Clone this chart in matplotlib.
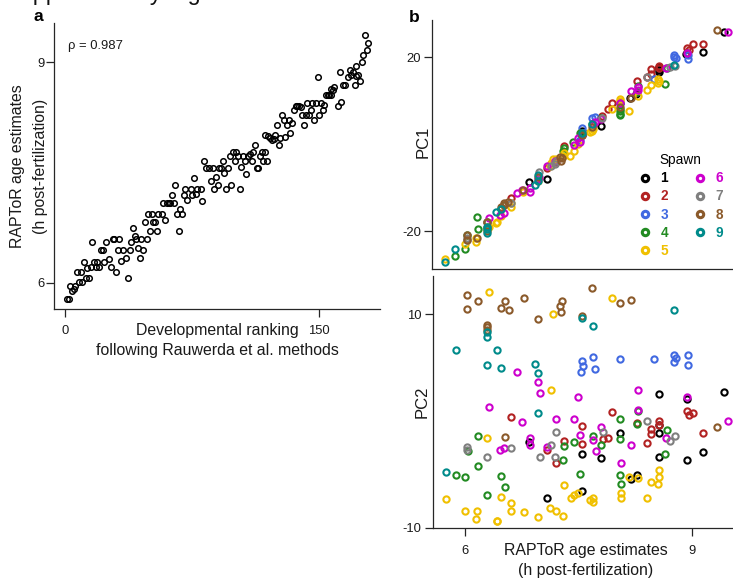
import matplotlib
matplotlib.use("Agg")
import matplotlib.pyplot as plt
from matplotlib.lines import Line2D

plt.rcParams["font.family"] = ["Liberation Sans", "DejaVu Sans"]
plt.rcParams["axes.unicode_minus"] = False

# ---------------- panel a: developmental ranking vs RAPToR age ----------------
rank = [1, 2, 3, 4, 5, 6, 7, 8, 9, 10, 11, 12, 13, 14, 15, 16, 17, 18, 19, 20,
        21, 22, 23, 24, 26, 27, 28, 29, 30, 31, 32, 33, 34, 36, 37, 38, 39, 40,
        41, 42, 43, 44, 45, 46, 47, 48, 49, 50, 51, 52, 53, 54, 55, 57, 58, 59,
        60, 61, 62, 63, 64, 65, 66, 67, 68, 69, 70, 71, 72, 74, 75, 76, 77, 78,
        80, 81, 82, 83, 85, 86, 87, 88, 89, 90, 91, 92, 93, 94, 95, 96, 97, 98,
        99, 100, 101, 102, 103, 104, 105, 106, 107, 108, 109, 110, 111, 112,
        113, 114, 115, 116, 117, 118, 118, 119, 120, 121, 122, 123, 124, 125,
        126, 127, 128, 129, 130, 131, 132, 133, 134, 135, 136, 137, 138, 139,
        140, 141, 142, 143, 144, 145, 146, 147, 148, 149, 150, 151, 152, 153,
        154, 155, 156, 157, 157, 158, 159, 161, 162, 163, 164, 165, 167, 168,
        169, 170, 171, 172, 172, 173, 174, 175, 176, 177, 178, 179]
raptor_age = [5.78, 5.78, 5.96, 5.89, 5.92, 5.96, 6.14, 6.01, 6.14, 6.01, 6.28,
              6.07, 6.20, 6.07, 6.22, 6.56, 6.28, 6.22, 6.28, 6.21, 6.44, 6.44,
              6.28, 6.56, 6.32, 6.21, 6.59, 6.59, 6.14, 6.44, 6.59, 6.29, 6.45,
              6.33, 6.07, 6.44, 6.56, 6.75, 6.63, 6.59, 6.47, 6.33, 6.59, 6.44,
              6.83, 6.59, 6.93, 6.71, 6.93, 6.83, 6.83, 6.71, 6.93, 6.93, 7.08,
              6.85, 7.08, 7.08, 7.09, 7.20, 7.09, 7.33, 6.93, 6.70, 7.00, 6.93,
              7.19, 7.28, 7.13, 7.28, 7.19, 7.43, 7.21, 7.28, 7.28, 7.11, 7.65,
              7.56, 7.56, 7.38, 7.56, 7.28, 7.44, 7.33, 7.56, 7.56, 7.65, 7.50,
              7.28, 7.56, 7.73, 7.33, 7.78, 7.65, 7.78, 7.72, 7.28, 7.58, 7.72,
              7.65, 7.48, 7.73, 7.75, 7.65, 7.78, 7.88, 7.56, 7.56, 7.73, 7.78,
              7.65, 7.78, 8.01, 7.65, 8.00, 7.97, 7.94, 7.95, 8.01, 8.15, 7.87,
              7.97, 8.28, 8.22, 7.99, 8.15, 8.22, 8.04, 8.18, 8.35, 8.40, 8.41,
              8.41, 8.39, 8.28, 8.15, 8.28, 8.45, 8.28, 8.35, 8.45, 8.22, 8.45,
              8.80, 8.28, 8.45, 8.35, 8.42, 8.56, 8.56, 8.56, 8.56, 8.63, 8.62,
              8.67, 8.40, 8.87, 8.46, 8.69, 8.69, 8.80, 8.89, 8.83, 8.87, 8.69,
              8.81, 8.95, 8.83, 8.74, 9.01, 9.10, 9.37, 9.17, 9.26]
rho_text = "\u03c1 = 0.987"

# ---------------- panel b: PCA by spawn ----------------
spawns = [1, 2, 3, 4, 5, 6, 7, 8, 9]
spawn_colors = ["#000000", "#B22222", "#4169E1", "#228B22", "#F0C000",
                "#CD00CD", "#7F7F7F", "#8B5A2B", "#008B8B"]

age_by_spawn = {
    1: [6.85, 7.55, 7.55, 7.09, 8.05, 7.80, 8.19, 8.27, 8.57, 8.57, 8.57, 8.57,
        8.94, 8.93, 9.15, 9.43],
    2: [6.61, 7.09, 7.21, 7.31, 7.55, 7.55, 7.82, 7.89, 7.95, 8.28, 8.46, 8.46,
        8.41, 8.57, 8.57, 8.94, 8.96, 9.01, 9.15],
    3: [7.55, 7.56, 7.53, 7.69, 7.72, 8.05, 8.50, 8.77, 8.79, 8.77, 8.95, 8.95],
    4: [6.17, 6.04, 6.18, 5.88, 6.01, 6.48, 6.53, 6.30, 7.30, 7.31, 7.44, 7.52,
        7.69, 8.05, 8.05, 8.29, 8.28, 8.67, 8.65, 8.05, 8.06, 7.80],
    5: [6.32, 7.17, 7.14, 6.30, 5.75, 6.01, 6.16, 6.15, 6.42, 6.43, 6.48, 6.61,
        6.61, 6.78, 6.97, 7.13, 7.21, 7.30, 7.31, 7.40, 7.45, 7.50, 7.66, 7.95,
        8.06, 8.06, 7.70, 7.69, 8.41, 8.29, 8.46, 8.57, 8.56, 8.55, 8.17],
    6: [6.69, 6.32, 6.76, 6.97, 6.99, 6.86, 6.86, 6.47, 6.52, 7.20, 7.45, 7.50,
        7.52, 7.09, 7.80, 7.70, 7.73, 8.20, 8.06, 8.29, 8.29, 8.94, 8.66, 9.48],
    7: [6.03, 6.03, 6.30, 6.61, 7.21, 7.14, 6.99, 7.19, 7.82, 8.41, 8.78, 8.71],
    8: [6.03, 6.03, 6.17, 6.30, 6.30, 6.30, 6.53, 6.48, 6.58, 6.78, 6.97, 7.26,
        7.29, 7.27, 7.55, 7.68, 8.05, 8.20, 6.53, 9.33],
    9: [5.75, 5.88, 6.42, 6.30, 6.48, 6.93, 6.97, 6.97, 6.30, 6.30, 7.55, 7.69,
        8.77],
}
pc1_by_spawn = {
    1: [-8.7, 3.0, 2.0, -8.0, 9.5, 4.1, 10.5, 11.5, 17.8, 17.0, 17.5, 16.5,
        21.0, 20.8, 21.2, 25.7],
    2: [-12.3, -5.5, -4.1, -0.5, 2.5, 2.0, 6.5, 8.0, 9.5, 14.5, 16.0, 17.2,
        15.5, 17.5, 18.0, 22.0, 21.5, 23.1, 23.0],
    3: [3.6, 2.5, 1.0, 6.1, 6.3, 9.5, 14.9, 20.5, 19.8, 20.0, 20.5, 19.5],
    4: [-16.7, -21.0, -19.5, -25.7, -24.2, -15.0, -14.0, -18.0, -1.5, -1.0,
        0.5, 2.5, 4.5, 8.0, 6.7, 13.3, 12.0, 17.5, 13.8, 7.0, 7.5, 6.0],
    5: [-19.0, -3.5, -4.4, -19.5, -26.5, -23.0, -21.6, -22.5, -18.2, -17.8,
        -16.5, -13.5, -14.5, -11.0, -8.5, -5.0, -3.5, -2.8, -2.0, -2.8, -1.5,
        0.0, 2.8, 8.0, 10.3, 9.8, 3.5, 3.0, 12.4, 11.0, 13.5, 14.5, 15.0, 14.0,
        7.7],
    6: [-11.3, -17.0, -10.5, -8.0, -7.5, -11.0, -10.2, -16.3, -15.8, -4.0,
        -0.2, 1.5, 0.5, -5.0, 5.8, 4.5, 5.0, 12.3, 9.5, 12.5, 13.0, 21.0, 17.5,
        25.7],
    7: [-21.5, -22.0, -18.0, -13.5, -4.0, -5.0, -6.4, -4.5, 6.0, 15.5, 18.0,
        17.8],
    8: [-22.0, -21.0, -21.6, -18.0, -19.0, -20.0, -13.6, -14.5, -13.3, -10.5,
        -7.5, -2.9, -3.3, -3.8, 2.0, 4.0, 8.5, 10.5, -14.0, 26.2],
    9: [-27.0, -24.0, -15.6, -19.5, -15.0, -9.4, -8.5, -7.0, -20.5, -19.0, 2.5,
        4.5, 18.2],
}
pc2_by_spawn = {
    1: [-2.00, -3.13, -6.59, -7.22, -1.16, -3.50, -5.44, -5.06, 2.50, -0.38,
        -1.16, -3.34, 2.06, -3.66, -2.88, 2.75],
    2: [0.41, -2.72, -3.97, -1.84, -0.44, -2.19, -1.72, -1.63, 0.88, -0.22,
        -0.75, -1.25, -2.03, 0.03, -0.34, 0.94, 0.56, 0.72, -1.09],
    3: [5.60, 5.20, 4.55, 5.97, 4.84, 5.78, 5.81, 6.19, 5.88, 5.50, 6.19, 5.25],
    4: [-1.41, -2.81, -4.19, -5.06, -5.22, -5.13, -6.22, -6.94, -3.66, -2.31,
        -1.94, -5.00, -1.38, 0.19, -1.69, 0.94, -0.31, -0.84, -3.09, -5.06,
        -5.94, -2.25],
    5: [12.06, 10.00, 2.94, -1.63, -7.34, -8.41, -8.41, -9.19, -9.34, -9.40,
        -7.09, -7.72, -8.44, -8.56, -9.03, -8.16, -8.47, -8.88, -6.00, -7.25,
        -6.94, -6.78, -7.41, 11.56, -6.78, -7.19, -7.19, -7.63, -7.19, -5.34,
        -5.72, -4.59, -5.22, -5.94, -5.25],
    6: [4.63, 1.28, -0.13, 3.69, 2.59, -1.56, -2.25, -2.72, -2.50, 0.16, 0.16,
        2.28, -1.31, -2.41, -0.53, -1.78, -2.81, -2.25, -3.97, 2.91, 1.03, 2.28,
        -1.63, 0.03],
    7: [-2.41, -2.72, -3.34, -2.50, -1.06, -2.25, -3.34, -3.34, -1.06, -0.03,
        -1.44, -1.88],
    8: [11.81, 10.50, 11.25, 9.00, 8.78, 8.53, 11.25, 10.63, 10.44, 11.50, 9.56,
        10.81, 11.25, 10.25, 9.88, 12.44, 11.09, 11.38, -1.53, -0.53],
    9: [-4.75, 6.69, 6.66, 5.25, 5.00, 5.34, 4.53, 0.72, 8.38, 7.90, 9.69, 8.94,
        10.44],
}

# ---------------- layout helpers ----------------
W, H = 733, 584
fig = plt.figure(figsize=(W / 100, H / 100), dpi=100)
fig.patch.set_facecolor("white")


def px_box(left, top, right, bottom):
    return [left / W, 1 - bottom / H, (right - left) / W, (bottom - top) / H]


def fig_xy(x, y):
    return x / W, 1 - y / H


AX_COL = "#262626"
TICK_FS = 9.4
LABEL_FS = 11.4


def style_axes(ax, xpad, ypad, length=5.5):
    for side in ("top", "right"):
        ax.spines[side].set_visible(False)
    for side in ("left", "bottom"):
        ax.spines[side].set_linewidth(0.9)
        ax.spines[side].set_color(AX_COL)
    ax.tick_params(direction="out", length=length, width=0.9, colors=AX_COL,
                   labelsize=TICK_FS, labelcolor="#1a1a1a")
    ax.tick_params(axis="x", pad=xpad)
    ax.tick_params(axis="y", pad=ypad)


# caption line running off the top of the page
fig.text(*fig_xy(4, 0.3), "Supplementary Figure 5", fontsize=16.8,
         va="baseline", ha="left", color="#111111")

# ---------------- panel a ----------------
axA = fig.add_axes(px_box(54.3, 23, 380, 309))
axA.plot(rank, raptor_age, ls="none", marker="o", ms=4.0, mfc="none",
         mec="black", mew=1.1)
axA.set_xlim(-6.5, 185.9)
axA.set_ylim(5.642, 9.535)
axA.set_xticks([0, 150])
axA.set_yticks([6, 9])
style_axes(axA, xpad=6.3, ypad=1.2)
fig.text(*fig_xy(68, 49.5), rho_text, fontsize=9.4, va="baseline",
         ha="left", color="#1a1a1a")
fig.text(*fig_xy(33, 21), "a", fontsize=12.5, fontweight="bold",
         va="baseline", ha="left")
fig.text(*fig_xy(18, 166), "RAPToR age estimates", rotation=90,
         fontsize=LABEL_FS, ha="center", va="center", color="#1a1a1a")
fig.text(*fig_xy(41, 166), "(h post-fertilization)", rotation=90,
         fontsize=LABEL_FS, ha="center", va="center", color="#1a1a1a")
fig.text(*fig_xy(217, 330), "Developmental ranking", fontsize=LABEL_FS,
         ha="center", va="center", color="#1a1a1a")
fig.text(*fig_xy(217, 350), "following Rauwerda et al. methods",
         fontsize=LABEL_FS, ha="center", va="center", color="#1a1a1a")

# ---------------- panel b (top: PC1, bottom: PC2) ----------------
B_XLIM = (5.578, 9.544)
axT = fig.add_axes(px_box(432.3, 20, 733, 269))
axB = fig.add_axes(px_box(432.8, 276, 733, 528))
for s, col in zip(spawns, spawn_colors):
    axT.plot(age_by_spawn[s], pc1_by_spawn[s], ls="none", marker="o", ms=4.5,
             mfc="none", mec=col, mew=1.5)
    axB.plot(age_by_spawn[s], pc2_by_spawn[s], ls="none", marker="o", ms=4.5,
             mfc="none", mec=col, mew=1.5)

axT.set_xlim(*B_XLIM)
axT.set_ylim(-28.7, 28.5)
axT.set_xticks([])
axT.set_yticks([-20, 20])
style_axes(axT, xpad=6.3, ypad=2.0, length=6)

axB.set_xlim(*B_XLIM)
axB.set_ylim(-10.03, 13.59)
axB.set_xticks([6, 9])
axB.set_yticks([-10, 10])
style_axes(axB, xpad=6.5, ypad=2.0, length=6)

fig.text(*fig_xy(409, 22), "b", fontsize=12.5, fontweight="bold",
         va="baseline", ha="left")
fig.text(*fig_xy(423, 142), "PC1", rotation=90, fontsize=LABEL_FS + 0.6,
         ha="center", va="center", color="#1a1a1a")
fig.text(*fig_xy(422, 402), "PC2", rotation=90, fontsize=LABEL_FS + 0.6,
         ha="center", va="center", color="#1a1a1a")
fig.text(*fig_xy(586, 550), "RAPToR age estimates", fontsize=LABEL_FS,
         ha="center", va="center", color="#1a1a1a")
fig.text(*fig_xy(586, 570), "(h post-fertilization)", fontsize=LABEL_FS,
         ha="center", va="center", color="#1a1a1a")

# spawn legend
handles = [Line2D([], [], ls="none", marker="o", ms=4.6, mfc="none", mec=c,
                  mew=2.2) for c in spawn_colors]
leg = axT.legend(handles, [str(s) for s in spawns], ncol=2, title="Spawn",
                 frameon=False, fontsize=9.8, title_fontsize=9.8,
                 handlelength=1.0, handletextpad=0.62, columnspacing=1.85,
                 labelspacing=0.30, borderpad=0.0, loc="upper left",
                 bbox_to_anchor=fig_xy(631.5, 146.5),
                 bbox_transform=fig.transFigure)
for txt, col in zip(leg.get_texts(), spawn_colors):
    txt.set_color(col)
    txt.set_fontweight("bold")

fig.savefig("out.png", dpi=100, facecolor="white")
